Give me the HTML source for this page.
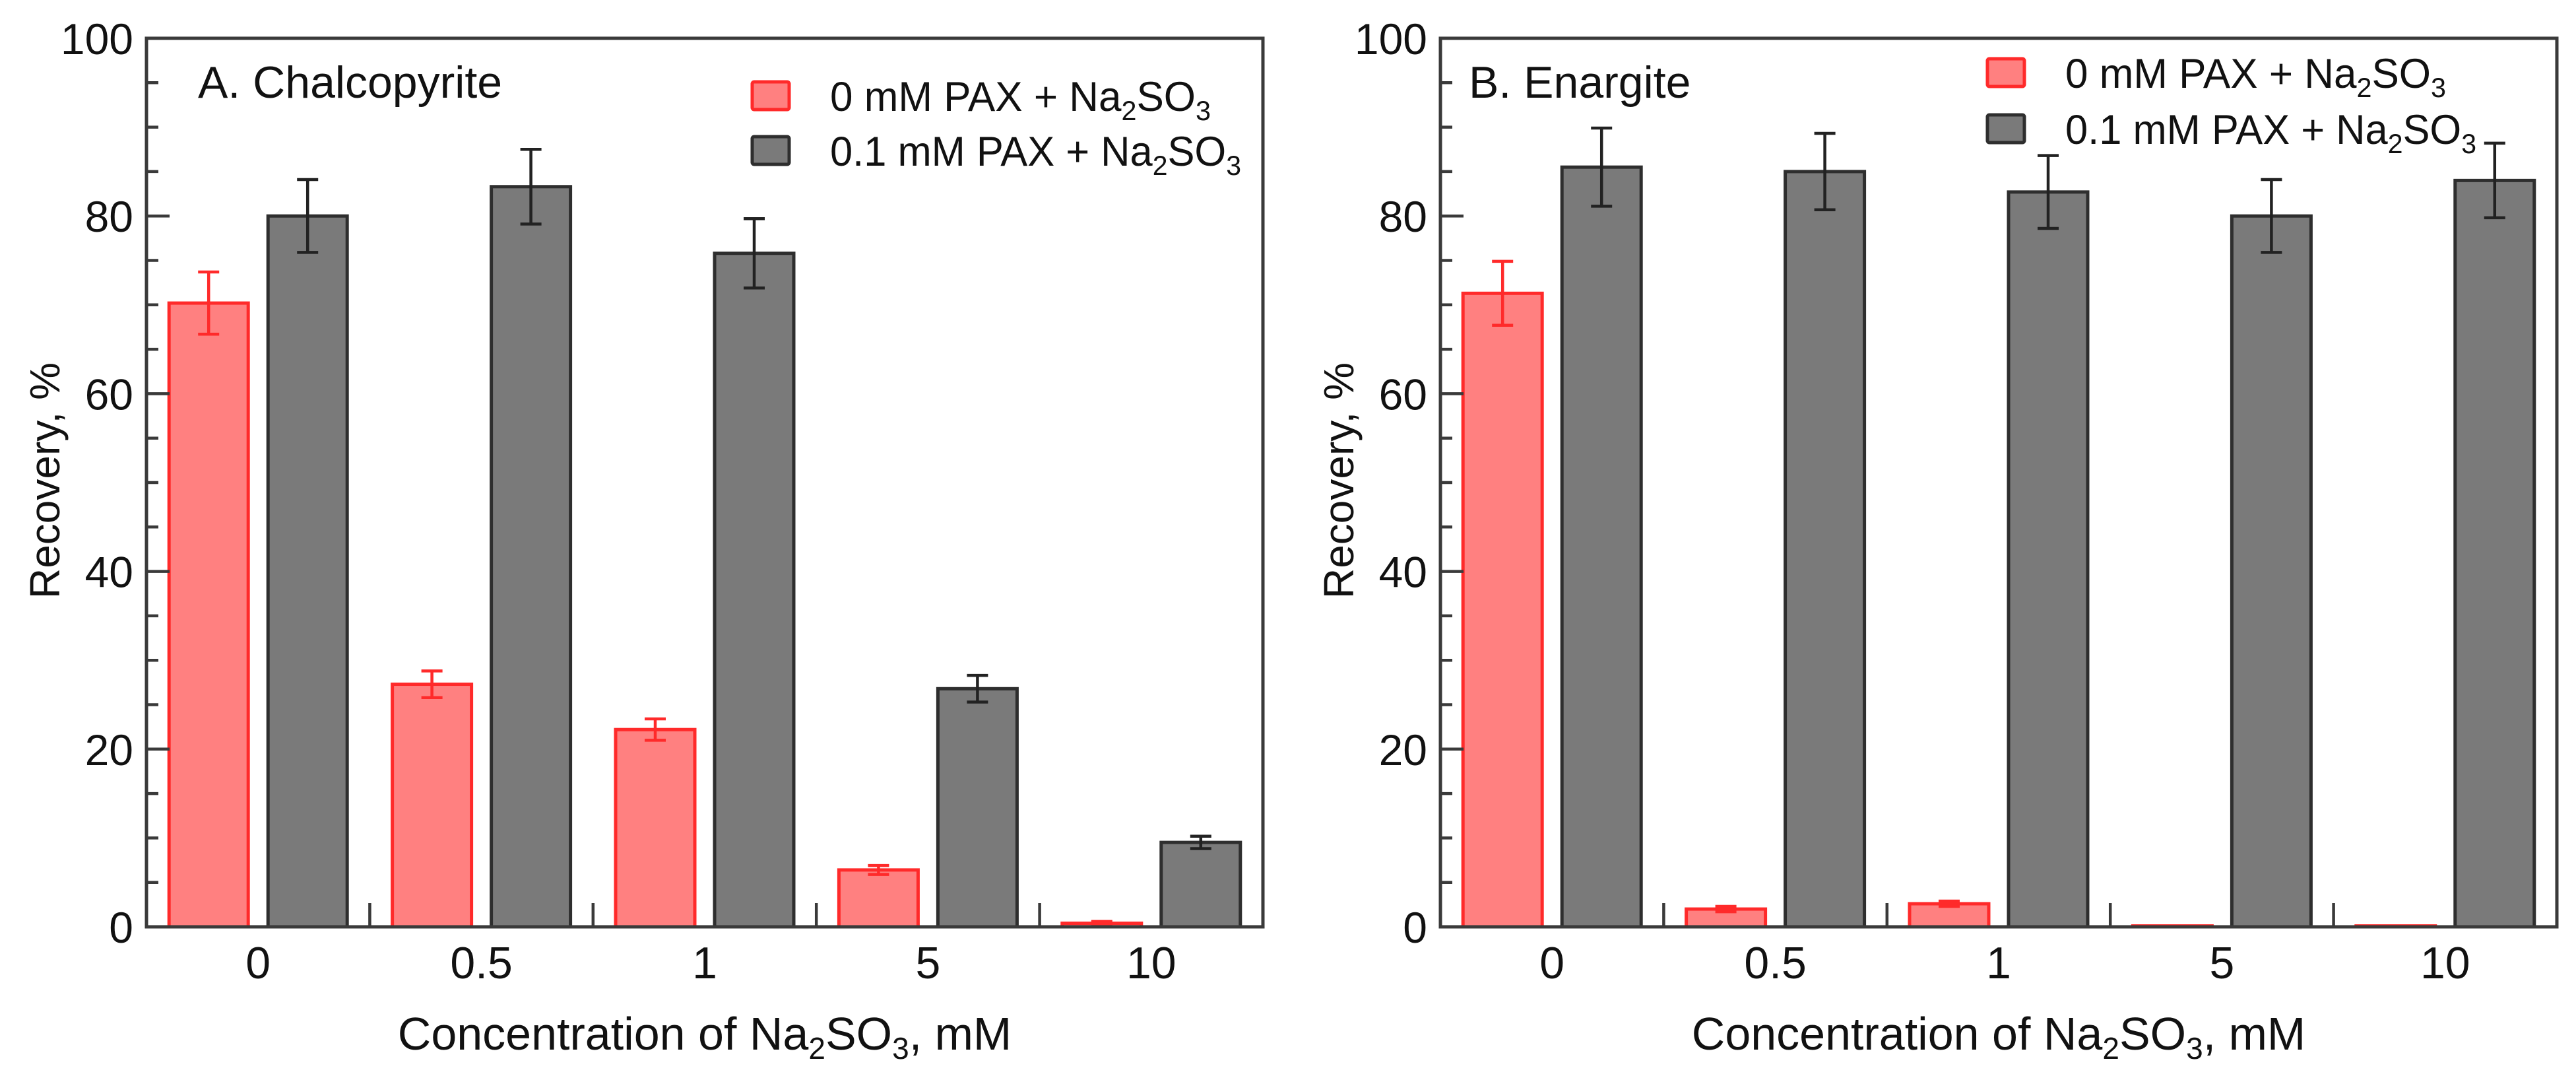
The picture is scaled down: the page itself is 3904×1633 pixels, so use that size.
<!DOCTYPE html>
<html><head><meta charset="utf-8">
<style>
html,body{margin:0;padding:0;background:#fff;}
svg{display:block;}
text{font-family:"Liberation Sans",sans-serif;fill:#111;}
</style></head>
<body>
<svg id="fig" width="3904" height="1633" viewBox="0 0 3904 1633" xmlns="http://www.w3.org/2000/svg"></svg>
<script>
const categories = ["0","0.5","1","5","10"];
const yTicks = [0,20,40,60,80,100];
const seriesLabels = ["0 mM PAX + Na", "0.1 mM PAX + Na"];
const aRed = [70.2, 27.3, 22.2, 6.4, 0.4];
const aRedErr = [3.5, 1.5, 1.2, 0.5, 0.2];
const aGray = [80.0, 83.3, 75.8, 26.8, 9.5];
const aGrayErr = [4.1, 4.2, 3.9, 1.5, 0.7];
const bRed = [71.3, 2.0, 2.6, 0.1, 0.1];
const bRedErr = [3.6, 0.3, 0.3, 0, 0];
const bGray = [85.5, 85.0, 82.7, 80.0, 84.0];
const bGrayErr = [4.4, 4.3, 4.1, 4.1, 4.2];

const NS = "http://www.w3.org/2000/svg";
const svg = document.getElementById('fig');
function el(tag, attrs, parent){
  const e = document.createElementNS(NS, tag);
  for (const k in attrs) e.setAttribute(k, attrs[k]);
  (parent||svg).appendChild(e);
  return e;
}
const Y0 = 1404, Y100 = 58;
function yScale(v){ return Y0 - (Y0 - Y100) * v / 100; }

function panel(cfg){
  const g = el('g', {});
  
  
  const L = cfg.left, R = cfg.left + 1692, gw = (R - L) / categories.length;
  const xC = i => L + gw * (i + 0.5);
  const bw = 120, off = 75;
  const series = [
    {vals: cfg.red, errs: cfg.redErr, fill: '#ff8080', stroke: '#ff2a2a', ecol: '#ff2a2a', o: -off, n: 'red'},
    {vals: cfg.gray, errs: cfg.grayErr, fill: '#7a7a7a', stroke: '#2e2e2e', ecol: '#222', o: off, n: 'gray'}
  ];
  series.forEach(s => {
    s.vals.forEach((v, i) => {
      const cx = xC(i) + s.o, yt = yScale(v);
      const r = el('rect', {x: cx - bw/2, y: yt, width: bw, height: Math.max(Y0 - yt, 0.5), fill: s.fill, stroke: s.stroke, 'stroke-width': 5}, g);
      
      
      const e = s.errs[i];
      if (e > 0){
        const eg = el('g', {stroke: s.ecol, 'stroke-width': 4.5, fill: 'none'}, g);
        
        
        el('line', {x1: cx, x2: cx, y1: yScale(v + e), y2: yScale(v - e)}, eg);
        el('line', {x1: cx - 16, x2: cx + 16, y1: yScale(v + e), y2: yScale(v + e)}, eg);
        el('line', {x1: cx - 16, x2: cx + 16, y1: yScale(v - e), y2: yScale(v - e)}, eg);
      }
    });
  });
  const fr = el('rect', {x: L, y: Y100, width: R - L, height: Y0 - Y100, fill: 'none', stroke: '#3a3a3a', 'stroke-width': 5}, g);
  
  
  for (let v = 0; v <= 100; v += 5){
    const major = v % 20 === 0;
    el('line', {x1: L, x2: L + (major ? 35 : 18), y1: yScale(v), y2: yScale(v), stroke: '#3a3a3a', 'stroke-width': 4.5}, g);
  }
  yTicks.forEach(v => {
    const t = el('text', {x: L - 20, y: yScale(v) + 24, 'text-anchor': 'end', 'font-size': 66}, g);
    t.textContent = v;
    
    
  });
  for (let i = 1; i < categories.length; i++){
    el('line', {x1: L + gw*i, x2: L + gw*i, y1: Y0, y2: Y0 - 36, stroke: '#3a3a3a', 'stroke-width': 4.5}, g);
  }
  categories.forEach((c, i) => {
    const t = el('text', {x: xC(i), y: 1482, 'text-anchor': 'middle', 'font-size': 68}, g);
    t.textContent = c;
    
    
  });
  const xt = el('text', {x: (L + R)/2, y: 1590, 'text-anchor': 'middle', 'font-size': 70}, g);
  xt.innerHTML = 'Concentration of Na<tspan font-size="46" dy="14">2</tspan><tspan dy="-14">SO</tspan><tspan font-size="46" dy="14">3</tspan><tspan dy="-14">, mM</tspan>';
  
  
  const yt = el('text', {x: 0, y: 0, 'text-anchor': 'middle', 'font-size': 64, transform: 'translate(' + (L - 132) + ',728) rotate(-90)'}, g);
  yt.textContent = 'Recovery, %';
  
  
  const pt = el('text', {x: cfg.titleX, y: 148, 'font-size': 68}, g);
  pt.textContent = cfg.title;
  
  
  const legW = [577, 623];
  [0,1].forEach(k => {
    const cy = cfg.legY[k];
    const lg = el('g', {}, g);
    
    
    el('rect', {x: cfg.legX, y: cy - 21, width: 56, height: 42, rx: 3, fill: k ? '#7a7a7a' : '#ff8080', stroke: k ? '#2e2e2e' : '#ff2a2a', 'stroke-width': 5}, lg);
    const t = el('text', {x: cfg.legX + 118, y: cy + 23, 'font-size': 63, textLength: legW[k], lengthAdjust: 'spacingAndGlyphs'}, lg);
    t.innerHTML = seriesLabels[k] + '<tspan font-size="42" dy="14">2</tspan><tspan dy="-14">SO</tspan><tspan font-size="42" dy="14">3</tspan>';
  });
}

panel({name: 'panel-a-chalcopyrite', left: 222, red: aRed, redErr: aRedErr, gray: aGray, grayErr: aGrayErr,
  title: 'A. Chalcopyrite', titleX: 300, legX: 1140, legY: [145, 228]});
panel({name: 'panel-b-enargite', left: 2183, red: bRed, redErr: bRedErr, gray: bGray, grayErr: bGrayErr,
  title: 'B. Enargite', titleX: 2226, legX: 3012, legY: [110, 195]});
</script>
</body></html>
